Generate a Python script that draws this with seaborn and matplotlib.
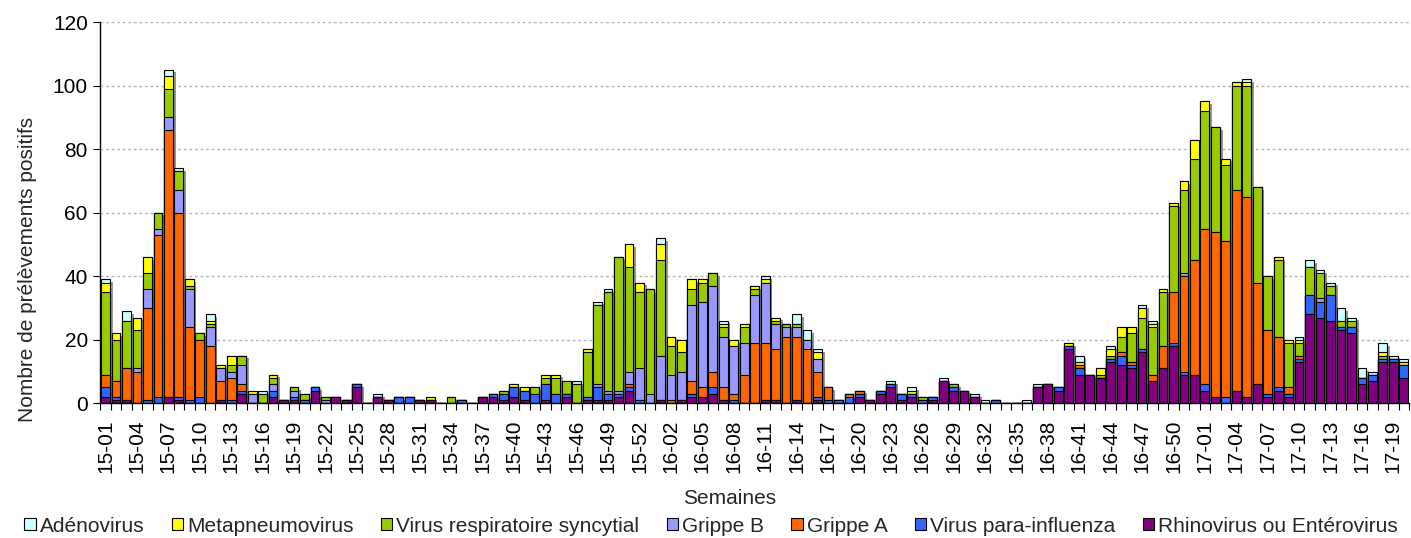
import numpy as np
import pandas as pd
import matplotlib
matplotlib.use("Agg")
import matplotlib.pyplot as plt
import matplotlib.patheffects as pe
from matplotlib.patches import Patch
import seaborn as sns

# ---------------- data ----------------
weeks = ([f"15-{i:02d}" for i in range(1, 54)]
         + [f"16-{i:02d}" for i in range(1, 53)]
         + [f"17-{i:02d}" for i in range(1, 21)])

rhino = [2, 1, 1, 0, 0, 0, 2, 1, 0, 0,
         0, 1, 0, 3, 0, 0, 2, 1, 1, 0,
         4, 0, 2, 1, 5, 0, 2, 1, 0, 0,
         1, 1, 0, 0, 0, 0, 2, 2, 1, 2,
         1, 0, 1, 0, 2, 0, 1, 1, 1, 2,
         4, 0, 0, 1, 0, 1, 2, 2, 3, 1,
         0, 0, 0, 1, 1, 0, 1, 0, 1, 0,
         0, 0, 2, 1, 3, 5, 1, 2, 0, 1,
         7, 4, 4, 2, 0, 0, 0, 0, 0, 5,
         6, 4, 17, 9, 9, 8, 13, 12, 11, 16,
         7, 11, 18, 9, 9, 4, 2, 0, 4, 2,
         6, 2, 4, 2, 13, 28, 27, 26, 23, 22,
         6, 7, 13, 13, 8]

para = [3, 1, 0, 0, 1, 2, 0, 1, 1, 2,
        0, 0, 1, 1, 0, 0, 2, 0, 1, 1,
        1, 0, 0, 0, 1, 0, 0, 0, 2, 2,
        0, 0, 0, 0, 1, 0, 0, 1, 2, 3,
        3, 3, 5, 3, 1, 0, 1, 4, 2, 1,
        1, 1, 0, 0, 0, 0, 1, 0, 2, 0,
        1, 0, 0, 0, 0, 0, 0, 0, 1, 1,
        1, 2, 1, 0, 1, 1, 2, 1, 1, 1,
        0, 1, 0, 0, 0, 1, 0, 0, 0, 0,
        0, 1, 1, 2, 0, 0, 1, 3, 1, 1,
        0, 0, 1, 1, 0, 2, 0, 2, 0, 0,
        0, 1, 1, 1, 1, 6, 5, 8, 1, 2,
        2, 2, 1, 1, 4]

grippe_a = [4, 5, 10, 10, 29, 51, 84, 58, 23, 18,
            18, 6, 7, 2, 0, 0, 0, 0, 0, 0,
            0, 0, 0, 0, 0, 0, 0, 0, 0, 0,
            0, 0, 0, 0, 0, 0, 0, 0, 0, 0,
            0, 0, 0, 0, 0, 0, 0, 0, 0, 0,
            1, 0, 0, 0, 1, 0, 4, 3, 5, 4,
            2, 9, 19, 18, 16, 21, 20, 17, 8, 4,
            0, 1, 1, 0, 0, 0, 0, 0, 0, 0,
            0, 0, 0, 0, 0, 0, 0, 0, 0, 0,
            0, 0, 0, 1, 0, 0, 0, 1, 1, 0,
            2, 7, 16, 30, 36, 49, 52, 49, 63, 63,
            32, 20, 16, 2, 1, 0, 0, 0, 0, 0,
            0, 0, 0, 0, 0]

grippe_b = [0, 0, 0, 1, 6, 2, 4, 7, 12, 0,
            6, 4, 2, 6, 3, 0, 2, 0, 2, 0,
            0, 1, 0, 0, 0, 0, 0, 0, 0, 0,
            0, 0, 0, 0, 0, 0, 0, 0, 0, 0,
            0, 0, 0, 0, 0, 0, 0, 1, 1, 1,
            4, 10, 3, 14, 8, 9, 24, 27, 27, 16,
            15, 10, 15, 19, 8, 3, 3, 3, 4, 0,
            0, 0, 0, 0, 0, 0, 0, 0, 0, 0,
            0, 0, 0, 0, 0, 0, 0, 0, 0, 0,
            0, 0, 0, 0, 0, 0, 0, 0, 0, 0,
            0, 0, 0, 1, 0, 0, 0, 0, 0, 0,
            0, 0, 0, 0, 0, 0, 1, 0, 0, 0,
            0, 0, 0, 0, 0]

rsv = [26, 13, 15, 12, 5, 5, 9, 6, 1, 2,
       1, 0, 2, 3, 0, 3, 2, 0, 1, 2,
       0, 1, 0, 0, 0, 0, 0, 0, 0, 0,
       0, 0, 0, 2, 0, 0, 0, 0, 1, 0,
       0, 2, 2, 5, 4, 6, 14, 25, 31, 42,
       33, 24, 33, 30, 9, 6, 5, 6, 4, 3,
       0, 5, 2, 0, 1, 1, 1, 0, 0, 0,
       0, 0, 0, 0, 0, 0, 0, 0, 1, 0,
       0, 1, 0, 0, 0, 0, 0, 0, 0, 0,
       0, 0, 0, 0, 0, 1, 1, 5, 9, 10,
       15, 17, 27, 26, 32, 37, 33, 24, 33, 35,
       30, 17, 24, 14, 4, 9, 8, 3, 2, 2,
       0, 0, 1, 0, 0]

meta = [3, 2, 0, 4, 5, 0, 4, 0, 2, 0,
        1, 1, 3, 0, 1, 0, 1, 0, 0, 0,
        0, 0, 0, 0, 0, 0, 0, 0, 0, 0,
        0, 1, 0, 0, 0, 0, 0, 0, 0, 1,
        1, 0, 1, 1, 0, 0, 1, 0, 0, 0,
        7, 3, 0, 5, 3, 4, 3, 1, 0, 1,
        2, 1, 1, 1, 1, 0, 0, 0, 2, 0,
        0, 0, 0, 0, 0, 0, 0, 1, 0, 0,
        0, 0, 0, 0, 0, 0, 0, 0, 0, 0,
        0, 0, 1, 1, 0, 2, 2, 3, 2, 3,
        1, 1, 1, 3, 6, 3, 0, 2, 1, 1,
        0, 0, 1, 1, 1, 0, 0, 0, 0, 0,
        0, 0, 1, 0, 1]

adeno = [1, 0, 3, 0, 0, 0, 2, 1, 0, 0,
         2, 0, 0, 0, 0, 1, 0, 0, 0, 0,
         0, 0, 0, 0, 0, 0, 1, 0, 0, 0,
         0, 0, 0, 0, 0, 0, 0, 0, 0, 0,
         0, 0, 0, 0, 0, 1, 0, 1, 1, 0,
         0, 0, 0, 2, 0, 0, 0, 0, 0, 1,
         0, 0, 0, 1, 0, 0, 3, 3, 1, 0,
         0, 0, 0, 0, 0, 1, 0, 1, 0, 0,
         1, 0, 0, 1, 1, 0, 0, 0, 1, 1,
         0, 0, 0, 2, 0, 0, 1, 0, 0, 1,
         1, 0, 0, 0, 0, 0, 0, 0, 0, 1,
         0, 0, 0, 0, 1, 2, 1, 1, 4, 1,
         3, 1, 3, 1, 1]

# stacking order, bottom -> top
series_names = ["Rhinovirus ou Entérovirus", "Virus para-influenza", "Grippe A",
                "Grippe B", "Virus respiratoire syncytial", "Metapneumovirus",
                "Adénovirus"]
series_values = [rhino, para, grippe_a, grippe_b, rsv, meta, adeno]
series_colors = ["#800080", "#3366FF", "#FF6600", "#9999FF", "#99CC00",
                 "#FFFF00", "#CCFFFF"]

df = pd.DataFrame({"week": weeks})
for name, vals in zip(series_names, series_values):
    df[name] = vals
cum = df[series_names].cumsum(axis=1)

# ---------------- plot ----------------
sns.set_theme(style="white")
plt.rcParams["font.family"] = ["Liberation Sans", "DejaVu Sans"]
FS = 15

fig = plt.figure(figsize=(14.11, 5.38), dpi=100)
ax = fig.add_axes([0.0711, 0.2504, 0.9275, 0.7086])

bar_w = 0.84
# draw from top layer (total) down to bottom layer, overlapping
for k in range(len(series_names) - 1, -1, -1):
    n_before = len(ax.patches)
    sns.barplot(x=df["week"], y=cum[series_names[k]], color=series_colors[k],
                saturation=1, edgecolor="black", linewidth=0.8, width=bar_w,
                errorbar=None, order=weeks, ax=ax)
    if k == len(series_names) - 1:
        for p in ax.patches[n_before:]:
            p.set_path_effects([pe.SimplePatchShadow(offset=(2, -2),
                                                     shadow_rgbFace="#8c8c8c",
                                                     alpha=0.9),
                                pe.Normal()])

ax.set_xlim(-0.5, len(weeks) - 0.5)
ax.set_ylim(0, 120)
ax.set_yticks(np.arange(0, 121, 20))
ax.yaxis.grid(True, linestyle=(0, (2, 2)), color="#b4b4b4", linewidth=1)
ax.xaxis.grid(False)
ax.set_axisbelow(True)

ax.set_xticks(np.arange(0, len(weeks), 3))
ax.set_xticklabels(weeks[::3], rotation=90, fontsize=FS)
ax.set_xticks(np.arange(-0.5, len(weeks), 1), minor=True)
ax.tick_params(axis="x", which="major", length=0, pad=12, colors="black")
ax.tick_params(axis="x", which="minor", length=5, width=0.8, color="black",
               direction="out", bottom=True)
ax.tick_params(axis="y", which="major", length=5, width=0.8, direction="out",
               left=True, labelsize=FS, colors="black", pad=4)

for s in ["top", "right"]:
    ax.spines[s].set_visible(False)
for s in ["left", "bottom"]:
    ax.spines[s].set_color("black")
    ax.spines[s].set_linewidth(1)

ax.set_ylabel("Nombre de prélèvements positifs", fontsize=FS, va="center")
ax.yaxis.set_label_coords(-0.0558, 0.352)
ax.set_xlabel("Semaines", fontsize=FS)
ax.xaxis.set_label_coords(0.4805, -0.224)

legend_order = [6, 5, 4, 3, 2, 1, 0]
handles = [Patch(facecolor=series_colors[i], edgecolor="black", linewidth=0.8)
           for i in legend_order]
labels = [series_names[i] for i in legend_order]
fig.legend(handles, labels, loc="center", bbox_to_anchor=(0.5040, 0.0223),
           ncol=7, frameon=False, fontsize=FS, handlelength=0.55,
           handleheight=0.55, handletextpad=0.2, columnspacing=1.3,
           borderaxespad=0, borderpad=0)

fig.savefig("out.png", dpi=100)
